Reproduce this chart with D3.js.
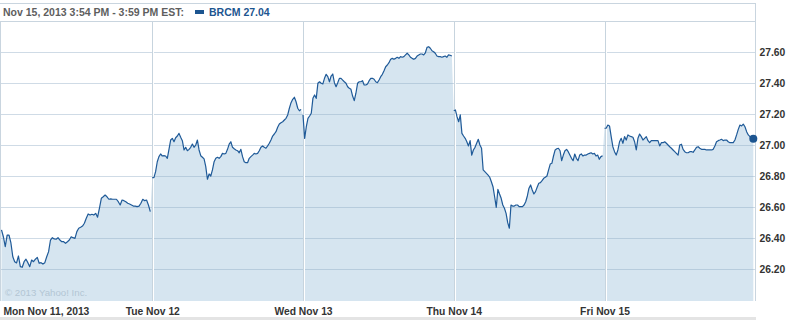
<!DOCTYPE html>
<html><head><meta charset="utf-8">
<script src="https://cdn.jsdelivr.net/npm/d3@7/dist/d3.min.js"></script>
<style>body{margin:0;background:#fff}svg{display:block}</style>
</head><body><svg id="c" width="800" height="320"></svg>
<script>
// ---- data ----
const dayLabels = ["Mon Nov 11, 2013", "Tue Nov 12", "Wed Nov 13", "Thu Nov 14", "Fri Nov 15"];
const mon = [26.452,26.408,26.344,26.419,26.419,26.368,26.279,26.247,26.239,26.284,26.215,26.211,26.247,26.263,26.241,26.215,26.258,26.247,26.263,26.275,26.237,26.241,26.232,26.241,26.279,26.312,26.387,26.402,26.394,26.392,26.402,26.387,26.376,26.376,26.366,26.376,26.387,26.408,26.402,26.398,26.441,26.463,26.469,26.477,26.495,26.527,26.555,26.548,26.553,26.548,26.559,26.534,26.592,26.656,26.666,26.677,26.666,26.650,26.652,26.650,26.650,26.650,26.634,26.613,26.645,26.641,26.634,26.624,26.619,26.613,26.606,26.606,26.602,26.606,26.624,26.650,26.641,26.645,26.613,26.570];
const tue = [26.789,26.789,26.828,26.892,26.925,26.942,26.929,26.931,26.929,26.914,26.972,27.032,27.043,27.021,27.047,27.058,27.075,27.050,27.028,26.968,26.985,26.963,26.972,26.985,27.006,26.985,27.000,27.032,26.968,26.931,26.921,26.910,26.860,26.779,26.813,26.800,26.839,26.892,26.914,26.921,26.914,26.925,26.946,26.942,26.946,26.972,27.006,27.021,26.985,26.976,26.968,26.963,26.950,26.972,26.925,26.892,26.886,26.886,26.914,26.925,26.935,26.946,26.942,26.946,26.963,26.985,26.994,26.985,26.979,26.994,27.011,27.032,27.058,27.071,27.086,27.114,27.135,27.144,27.150,27.161,27.172,27.194,27.237,27.273,27.295,27.308,27.279,27.237,27.221,27.230];
const wed = [27.194,27.043,27.118,27.172,27.187,27.205,27.301,27.323,27.301,27.398,27.408,27.398,27.394,27.430,27.456,27.441,27.408,27.445,27.458,27.402,27.376,27.402,27.430,27.430,27.419,27.408,27.398,27.376,27.366,27.359,27.316,27.286,27.334,27.398,27.408,27.408,27.415,27.387,27.387,27.394,27.415,27.430,27.430,27.424,27.408,27.402,27.419,27.441,27.456,27.479,27.505,27.516,27.531,27.553,27.559,27.553,27.559,27.566,27.559,27.570,27.566,27.570,27.581,27.592,27.581,27.566,27.559,27.553,27.559,27.574,27.581,27.587,27.587,27.581,27.595,27.630,27.634,27.624,27.608,27.602,27.592,27.574,27.570,27.570,27.566,27.570,27.574,27.566,27.581,27.579,27.574];
const thu = [27.221,27.226,27.183,27.150,27.194,27.075,27.058,27.043,27.021,26.994,27.028,26.935,26.968,26.985,27.011,27.037,27.000,26.979,26.839,26.828,26.817,26.806,26.792,26.763,26.731,26.666,26.598,26.714,26.684,26.656,26.613,26.592,26.559,26.499,26.463,26.613,26.606,26.606,26.613,26.613,26.602,26.602,26.602,26.613,26.634,26.671,26.721,26.742,26.710,26.684,26.699,26.727,26.753,26.757,26.770,26.785,26.792,26.800,26.839,26.877,26.882,26.929,26.968,26.976,26.979,26.963,26.899,26.935,26.963,26.972,26.957,26.935,26.914,26.899,26.942,26.914,26.899,26.935,26.942,26.929,26.935,26.935,26.942,26.946,26.950,26.942,26.946,26.929,26.935,26.908,26.925,26.931];
const fri = [27.108,27.108,27.129,27.123,27.054,26.989,26.957,26.935,26.968,27.021,27.043,27.011,27.054,27.032,27.065,27.058,27.054,27.050,27.021,26.968,27.043,27.071,27.054,27.032,27.043,27.054,27.028,27.015,27.028,27.028,27.028,27.028,27.028,26.994,27.015,27.015,27.021,27.011,27.000,26.989,26.979,26.968,26.957,26.946,26.935,27.000,27.005,26.972,26.957,26.950,26.950,26.957,26.957,26.953,26.968,26.985,26.989,26.979,26.972,26.972,26.972,26.968,26.968,26.968,26.968,26.972,26.994,27.021,27.028,27.032,27.037,27.028,27.032,27.032,27.021,27.015,27.015,27.015,27.032,27.065,27.101,27.129,27.123,27.135,27.118,27.086,27.065,27.054,27.037,27.040];
const yTicks = [26.20, 26.40, 26.60, 26.80, 27.00, 27.20, 27.40, 27.60];
const titleText = "Nov 15, 2013 3:54 PM - 3:59 PM EST:";
const seriesName = "BRCM";
const lastPrice = 27.04;
const copyright = "\u00a9 2013 Yahoo! Inc.";

(function () {
// ---- layout ----
const svg = d3.select("#c");
const W = 755, plotTop = 21.5, plotBottom = 301;
const days = [mon, tue, wed, thu, fri];
const x = d3.scaleLinear().domain([0, 5]).range([1.5, 755.25]);
const y = d3.scaleLinear().domain([26.0, 27.8]).range([300, 21]);
const FONT = "'Liberation Sans', Arial, sans-serif";

const pts = days.map((vals, d) => vals.map((v, i) => ({t: d + (i / (vals.length - 1)) * (77 / 78), v})));
const allPts = pts.flat();

// area
svg.append("path").datum(allPts)
  .attr("d", d3.area().x(p => x(p.t)).y0(plotBottom).y1(p => y(p.v)))
  .attr("fill", "#d6e5f0");

// horizontal grid + right axis labels
const yAxis = svg.append("g").attr("transform", `translate(${W + 0.5},0)`)
  .call(d3.axisRight(y).tickValues(yTicks).tickFormat(d3.format(".2f"))
    .tickSizeInner(-W).tickSizeOuter(0).tickPadding(4));
yAxis.select(".domain").remove();
yAxis.selectAll(".tick line").attr("stroke", "rgba(140,170,195,0.42)").attr("shape-rendering", "crispEdges");
yAxis.selectAll(".tick text").attr("fill", "#333").style("font", `bold 10.3px ${FONT}`);

// day separators
const sep = svg.append("g");
[1, 2, 3, 4].forEach(d => {
  const px = Math.round(x(d)) + 0.5;
  sep.append("line").attr("x1", px + 1).attr("x2", px + 1).attr("y1", plotTop).attr("y2", plotBottom).attr("stroke", "#fff");
  sep.append("line").attr("x1", px).attr("x2", px).attr("y1", plotTop).attr("y2", plotBottom).attr("stroke", "#c7d4de");
});

// borders
const bc = "#c9d5df";
svg.append("line").attr("x1", 0).attr("x2", W + 1).attr("y1", 3.5).attr("y2", 3.5).attr("stroke", bc);
svg.append("line").attr("x1", 0).attr("x2", W + 1).attr("y1", plotTop).attr("y2", plotTop).attr("stroke", bc);
svg.append("line").attr("x1", W + 0.5).attr("x2", W + 0.5).attr("y1", 3.5).attr("y2", plotBottom).attr("stroke", bc);
svg.append("line").attr("x1", 0.5).attr("x2", 0.5).attr("y1", plotTop).attr("y2", plotBottom).attr("stroke", bc);
svg.append("rect").attr("x", 0).attr("y", 317).attr("width", W + 1).attr("height", 3).attr("fill", "#e4e4e4");

// copyright
svg.append("text").attr("x", 5).attr("y", 296).text(copyright)
  .attr("fill", "#b3c5d4").style("font", `9.7px ${FONT}`);

// lines per day
const line = d3.line().x(p => x(p.t)).y(p => y(p.v));
svg.append("g").selectAll("path").data(pts).join("path")
  .attr("d", line).attr("fill", "none").attr("stroke", "#1f5a98").attr("stroke-width", 1.2)
  .attr("stroke-linejoin", "round");

// last point marker
const lp = allPts[allPts.length - 1];
svg.append("circle").attr("cx", x(lp.t)).attr("cy", y(lp.v)).attr("r", 4).attr("fill", "#1c5590");

// x axis labels
const xAxis = svg.append("g").attr("transform", `translate(0,${plotBottom})`)
  .call(d3.axisBottom(x).tickValues([0, 1, 2, 3, 4]).tickFormat((d, i) => dayLabels[i]).tickSize(0).tickPadding(6));
xAxis.select(".domain").remove();
xAxis.selectAll(".tick text").attr("fill", "#333").style("font", `bold 10.3px ${FONT}`)
  .attr("dy", null).attr("y", 14);
xAxis.select(".tick text").attr("text-anchor", "start").attr("x", 1.5);

// header
svg.append("text").attr("x", 3).attr("y", 16).text(titleText)
  .attr("fill", "#5e5e5e").style("font", `bold 10.5px ${FONT}`);
svg.append("rect").attr("x", 195).attr("y", 10).attr("width", 9).attr("height", 4).attr("fill", "#1c5590");
svg.append("text").attr("x", 209).attr("y", 16).text(`${seriesName} ${lastPrice.toFixed(2)}`)
  .attr("fill", "#1c5590").style("font", `bold 10.5px ${FONT}`);
})();
</script></body></html>
